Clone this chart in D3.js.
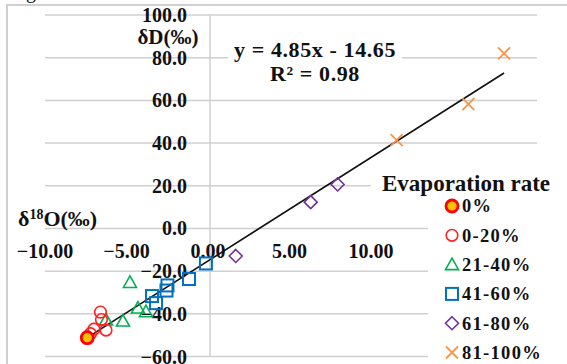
<!DOCTYPE html>
<html>
<head>
<meta charset="utf-8">
<script src="https://cdn.jsdelivr.net/npm/d3@7"></script>
<style>
	body { margin: 0; background: #fff; }
	svg { display: block; }
	text { font-family: "Liberation Serif", "Times New Roman", serif; font-weight: bold; fill: #111; }
</style>
</head>
<body>
<svg id="chart" width="567" height="364"></svg>
<script>
	// values (δ18O, δD per evaporation class)
	var seriesNames = ["0%", "0-20%", "21-40%", "41-60%", "61-80%", "81-100%"];
	var xs0 = [-7.53];
	var ys0 = [-51.2];
	var xs20 = [-6.72, -6.66, -7.12, -6.38, -7.33];
	var ys20 = [-39.2, -42.7, -47.2, -47.6, -49.3];
	var xs40 = [-4.91, -6.38, -5.34, -4.42, -3.93];
	var ys40 = [-25.3, -42.9, -43.4, -37.3, -39.0];
	var xs60 = [-0.25, -1.29, -2.61, -2.67, -3.56, -3.31];
	var ys60 = [-16.4, -23.7, -26.7, -29.1, -31.7, -35.0];
	var xs80 = [1.58, 6.18, 7.83];
	var ys80 = [-12.9, 12.3, 20.6];
	var xs100 = [11.45, 15.85, 18.04];
	var ys100 = [41.4, 58.2, 82.0];
	var xTicks = [-10, -5, 0, 5, 10];
	var yTicks = [100, 80, 60, 40, 20, 0, -20, -40, -60];
	var slope = 4.85, intercept = -14.65, r2 = 0.98;

	var svg = d3.select("#chart");
	var x = d3.scaleLinear().domain([-10, 20]).range([47, 536]);
	var y = d3.scaleLinear().domain([-60, 100]).range([356.5, 15]);

	var grid = "#d0d0d0";

	// caption fragment above the frame
	svg.append("text").attr("x", 36).attr("y", -2).attr("text-anchor", "end")
		.style("font-weight", "normal").style("font-size", "20px").text("Fig");

	// frame
	svg.append("path").attr("d", "M7,364V5H567")
		.attr("fill", "none").attr("stroke", grid).attr("stroke-width", 2);

	// horizontal gridlines + y axis
	svg.append("g").selectAll("line").data(yTicks).enter().append("line")
		.attr("x1", 45).attr("x2", 537)
		.attr("y1", function(d) { return y(d); })
		.attr("y2", function(d) { return y(d); })
		.attr("stroke", grid).attr("stroke-width", 1.5);
	svg.append("line").attr("x1", x(0)).attr("x2", x(0))
		.attr("y1", y(100)).attr("y2", y(-60))
		.attr("stroke", grid).attr("stroke-width", 1.5);

	// white boxes of legend and equation
	svg.append("rect").attr("x", 371).attr("y", 168).attr("width", 196).attr("height", 28).attr("fill", "#fff");
	svg.append("rect").attr("x", 428).attr("y", 196).attr("width", 139).attr("height", 168).attr("fill", "#fff");
	svg.append("rect").attr("x", 228).attr("y", 38).attr("width", 174).attr("height", 50).attr("fill", "#fff");

	// tick labels
	svg.append("g").selectAll("text").data(yTicks).enter().append("text")
		.attr("x", 187).attr("y", function(d) { return y(d); })
		.attr("dy", "0.35em").attr("text-anchor", "end")
		.style("font-size", "20px")
		.text(function(d) { return d3.format(".1f")(d); });
	svg.append("g").selectAll("text").data(xTicks).enter().append("text")
		.attr("x", function(d) { return x(d) - 2; }).attr("y", y(0) + 23)
		.attr("dy", "0.35em").attr("text-anchor", "middle")
		.style("font-size", "20px")
		.text(function(d) { return d3.format(".2f")(d); });

	// axis titles
	svg.append("text").attr("x", 168).attr("y", 37).attr("dy", "0.35em")
		.attr("text-anchor", "middle").style("font-size", "21px").text("δD(‰)");
	var xt = svg.append("text").attr("x", 18).attr("y", 226).style("font-size", "22px");
	xt.append("tspan").text("δ");
	xt.append("tspan").attr("dy", -7).style("font-size", "14px").text("18");
	xt.append("tspan").attr("dy", 7).text("O(‰)");

	// trendline
	var all = xs0.concat(xs20, xs40, xs60, xs80, xs100);
	var ext = d3.extent(all);
	svg.append("line")
		.attr("x1", x(ext[0])).attr("y1", y(slope * ext[0] + intercept))
		.attr("x2", x(ext[1])).attr("y2", y(slope * ext[1] + intercept))
		.attr("stroke", "#111").attr("stroke-width", 1.6);

	svg.append("text").attr("x", 315).attr("y", 57).attr("text-anchor", "middle")
		.style("font-size", "22px").style("letter-spacing", "0.6px")
		.text("y = " + slope + "x - " + Math.abs(intercept));
	svg.append("text").attr("x", 315).attr("y", 81).attr("text-anchor", "middle")
		.style("font-size", "22px").style("letter-spacing", "0.6px")
		.text("R² = " + r2);

	// marker styles
	var styles = [
		{ shape: "circle", stroke: "#ff0000", fill: "#ffc000", width: 2.8, r: 6 },
		{ shape: "circle", stroke: "#ff2020", fill: "none", width: 1.6, r: 5.8 },
		{ shape: "triangle", stroke: "#00b050", fill: "none", width: 1.6 },
		{ shape: "square", stroke: "#0070c0", fill: "none", width: 2 },
		{ shape: "diamond", stroke: "#7030a0", fill: "none", width: 1.6 },
		{ shape: "x", stroke: "#f79646", fill: "none", width: 1.8 }
	];
	var xsets = [xs0, xs20, xs40, xs60, xs80, xs100];
	var ysets = [ys0, ys20, ys40, ys60, ys80, ys100];

	function marker(g, st) {
		if (st.shape == "circle") {
			g.append("circle").attr("r", st.r);
		} else if (st.shape == "triangle") {
			g.append("path").attr("d", "M0,-6.5L6.5,5L-6.5,5Z");
		} else if (st.shape == "square") {
			g.append("rect").attr("x", -6).attr("y", -6).attr("width", 12).attr("height", 12);
		} else if (st.shape == "diamond") {
			g.append("path").attr("d", "M0,-6.5L6.5,0L0,6.5L-6.5,0Z");
		} else {
			g.append("path").attr("d", "M-6,-6L6,6M-6,6L6,-6");
		}
		g.selectAll("*").attr("fill", st.fill).attr("stroke", st.stroke).attr("stroke-width", st.width);
	}

	// draw the later series first so the 0% point sits on top
	for (var i = styles.length - 1; i >= 0; i--) {
		var pts = d3.zip(xsets[i], ysets[i]);
		svg.append("g").selectAll("g").data(pts).enter().append("g")
			.attr("transform", function(d) { return "translate(" + x(d[0]) + "," + y(d[1]) + ")"; })
			.each(function() { marker(d3.select(this), styles[i]); });
	}

	// legend
	svg.append("text").attr("x", 382).attr("y", 183).attr("dy", "0.35em")
		.style("font-size", "23px").text("Evaporation rate");
	var leg = svg.append("g").selectAll("g").data(seriesNames).enter().append("g")
		.attr("transform", function(d, i) { return "translate(452," + (206 + i * 29.3) + ")"; });
	leg.each(function(d, i) {
		var g = d3.select(this);
		marker(g.append("g"), styles[i]);
		g.append("text").attr("x", 10).attr("dy", "0.35em")
			.style("font-size", "18.5px").style("letter-spacing", "1.3px").text(d);
	});
</script>
</body>
</html>
